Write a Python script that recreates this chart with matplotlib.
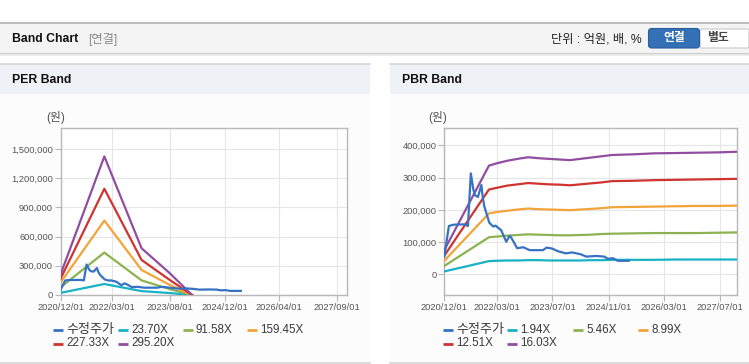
import matplotlib
matplotlib.use("Agg")
import matplotlib.pyplot as plt
import pandas as pd
from matplotlib.patches import Rectangle, FancyBboxPatch
from matplotlib.ticker import FuncFormatter

plt.rcParams["font.family"] = ["Liberation Sans", "Noto Sans CJK KR", "DejaVu Sans"]

W, H = 749, 364

# adjusted share price (shared by both panels)
PRICE_DATES = [
    "2020-12-01", "2021-01-10", "2021-02-20", "2021-05-25", "2021-06-25",
    "2021-07-20", "2021-08-10", "2021-08-25", "2021-09-20", "2021-10-20",
    "2021-11-01", "2021-11-15", "2021-12-28", "2022-02-01", "2022-02-20",
    "2022-04-10", "2022-05-25", "2022-06-22", "2022-07-05", "2022-08-28",
    "2022-10-20", "2022-12-15", "2023-04-10", "2023-05-10", "2023-06-28",
    "2023-08-15", "2023-10-25", "2023-12-20", "2024-03-05", "2024-04-20",
    "2024-07-15", "2024-09-25", "2024-10-25", "2024-12-10", "2025-01-20",
    "2025-04-25",
]
PRICE = [
    55000, 150000, 154000, 155000, 150000,
    313000, 265000, 245000, 240000, 277000,
    238000, 210000, 160000, 148000, 151000,
    137000, 101000, 119000, 115000, 81000,
    84000, 75000, 75000, 83000, 80000,
    72000, 65000, 68000, 62000, 55000,
    57000, 55000, 48000, 50000, 42000,
    42000,
]

# PER band
PER_DATES = ["2020-12-01", "2021-12-25", "2022-11-22", "2023-08-01", "2024-02-15"]
PER_LABELS = ["23.70X", "91.58X", "159.45X", "227.33X", "295.20X"]
PER_23 = [22000, 113000, 40000, 20000, 0]
PER_91 = [80000, 436000, 150000, 60000, 0]
PER_159 = [130000, 765000, 257000, 103000, 0]
PER_227 = [170000, 1092000, 360000, 154000, 0]
PER_295 = [215000, 1424000, 480000, 223000, 0]
PER_XTICKS = ["2020/12/01", "2022/03/01", "2023/08/01", "2024/12/01", "2026/04/01", "2027/09/01"]
PER_YTICKS = [0, 300000, 600000, 900000, 1200000, 1500000]

# PBR band
PBR_DATES = [
    "2020-12-01", "2021-12-25", "2022-03-01", "2022-06-01", "2022-09-01",
    "2022-12-01", "2023-03-01", "2023-06-01", "2023-09-01", "2023-12-01",
    "2024-03-01", "2024-06-01", "2024-09-01", "2024-12-01", "2025-06-01",
    "2025-12-01", "2026-06-01", "2026-12-01", "2027-06-01", "2027-11-27",
]
PBR_LABELS = ["1.94X", "5.46X", "8.99X", "12.51X", "16.03X"]
PBR_1 = [9000, 41000, 42000, 43000, 43000, 44000, 44000, 43000, 43000, 43000,
         43000, 44000, 44000, 45000, 45000, 45000, 46000, 46000, 46000, 46000]
PBR_5 = [26000, 115000, 117000, 120000, 122000, 124000, 123000, 122000, 121000, 121000,
         122000, 123000, 125000, 126000, 127000, 128000, 128000, 128000, 129000, 130000]
PBR_8 = [42000, 189000, 193000, 197000, 201000, 204000, 202000, 201000, 200000, 199000,
         201000, 203000, 205000, 208000, 209000, 210000, 211000, 212000, 212000, 213000]
PBR_12 = [58000, 263000, 268000, 275000, 279000, 283000, 281000, 279000, 278000, 276000,
          279000, 282000, 285000, 289000, 290000, 292000, 293000, 294000, 295000, 296000]
PBR_16 = [75000, 337000, 344000, 352000, 358000, 363000, 360000, 358000, 356000, 354000,
          358000, 362000, 366000, 370000, 372000, 375000, 376000, 377000, 378000, 380000]
PBR_XTICKS = ["2020/12/01", "2022/03/01", "2023/07/01", "2024/11/01", "2026/03/01", "2027/07/01"]
PBR_YTICKS = [0, 100000, 200000, 300000, 400000]

PRICE_LABEL = "수정주가"
COLORS = ["#3672c4", "#18b1c6", "#8cb350", "#f2a43a", "#cf3430", "#914ea0"]
GRID = "#e6e6e6"
SPINE = "#b8b8b8"


def pix_axes(fig, x0, y0, x1, y1):
    return fig.add_axes([x0 / W, 1 - y1 / H, (x1 - x0) / W, (y1 - y0) / H])


def band_axes(ax, dates, bands, xticks, yticks, ylim):
    d = pd.to_datetime(dates)
    for vals, c in zip(bands, COLORS[1:]):
        ax.plot(d, vals, color=c, lw=1.6, zorder=3)
    ax.plot(pd.to_datetime(PRICE_DATES), PRICE, color=COLORS[0], lw=1.6, zorder=4)
    ax.set_xlim(pd.Timestamp("2020-12-01"), pd.Timestamp("2027-11-27"))
    ax.set_ylim(*ylim)
    ax.set_xticks(pd.to_datetime(xticks))
    ax.set_xticklabels(xticks)
    ax.set_yticks(yticks)
    ax.yaxis.set_major_formatter(FuncFormatter(lambda v, _: f"{v:,.0f}"))
    ax.grid(True, color=GRID, lw=0.8, zorder=0)
    ax.set_axisbelow(True)
    for s in ax.spines.values():
        s.set_color(SPINE)
        s.set_linewidth(1.0)
    ax.tick_params(length=4, color=SPINE, labelsize=6.7, labelcolor="#555555", pad=1.5)
    ax.set_facecolor("white")


def legend(bg, x_cols, y_rows, labels):
    slots = [(x_cols[0], y_rows[0]), (x_cols[1], y_rows[0]), (x_cols[2], y_rows[0]),
             (x_cols[3], y_rows[0]), (x_cols[0], y_rows[1]), (x_cols[1], y_rows[1])]
    for (x, y), lab, c in zip(slots, labels, COLORS):
        bg.plot([x, x + 10], [y, y], color=c, lw=2.0, solid_capstyle="butt")
        size = 9.4 if lab == PRICE_LABEL else 8.4
        bg.text(x + 13, y, lab, fontsize=size, color="#3a3a3a", va="center", ha="left")


fig = plt.figure(figsize=(W / 100, H / 100), dpi=100, facecolor="white")
bg = fig.add_axes([0, 0, 1, 1])
bg.set_xlim(0, W)
bg.set_ylim(H, 0)
bg.axis("off")

# top header bar
bg.add_patch(Rectangle((0, 23), W, 30, facecolor="#f4f4f4", edgecolor="none"))
bg.plot([0, W], [22.5, 22.5], color="#b3b3b3", lw=1.2)
bg.plot([0, W], [53.5, 53.5], color="#cfcfcf", lw=1.5)
bg.plot([0, W], [55, 55], color="#ececec", lw=1.2)
bg.text(12, 39, "Band Chart", fontsize=8.8, fontweight="bold", color="#111111", va="center")
bg.text(88, 39, "[연결]", fontsize=8.8, color="#888888", va="center")
bg.text(642, 39, "단위 : 억원, 배, %", fontsize=8.8, color="#222222", va="center", ha="right")
bg.add_patch(FancyBboxPatch((700, 29), 49, 19, boxstyle="round,pad=0,rounding_size=2",
                            facecolor="white", edgecolor="#c8c8c8", lw=0.8))
bg.add_patch(FancyBboxPatch((648.5, 28.5), 51, 19.5, boxstyle="round,pad=0,rounding_size=3",
                            facecolor="#3470b6", edgecolor="#2a5e9c", lw=0.8))
bg.text(674, 38.5, "연결", fontsize=8.5, fontweight="bold", color="white", va="center", ha="center")
bg.text(718, 38.5, "별도", fontsize=8.5, fontweight="bold", color="#444444", va="center", ha="center")

# panels
for x0, x1, title in [(0, 370, "PER Band"), (390, W, "PBR Band")]:
    bg.add_patch(Rectangle((x0, 64.5), x1 - x0, 29, facecolor="#eef1f6", edgecolor="none"))
    bg.add_patch(Rectangle((x0, 93.5), x1 - x0, 268.5, facecolor="#fcfcfc", edgecolor="none"))
    bg.plot([x0, x1], [64, 64], color="#d4d4d4", lw=1.2)
    bg.plot([x0, x1], [362.5, 362.5], color="#d6d6d6", lw=1.2)
    bg.text(x0 + 12, 80, title, fontsize=8.8, fontweight="bold", color="#111111", va="center")

bg.text(56, 118, "(원)", fontsize=8.5, color="#555555", va="center", ha="center")
bg.text(438, 118, "(원)", fontsize=8.5, color="#555555", va="center", ha="center")

ax1 = pix_axes(fig, 60.7, 128, 347, 295)
band_axes(ax1, PER_DATES, [PER_23, PER_91, PER_159, PER_227, PER_295],
          PER_XTICKS, PER_YTICKS, (0, 1716000))

ax2 = pix_axes(fig, 444.3, 128.3, 737.3, 295)
band_axes(ax2, PBR_DATES, [PBR_1, PBR_5, PBR_8, PBR_12, PBR_16],
          PBR_XTICKS, PBR_YTICKS, (-64000, 452700))

legend(bg, [53, 118, 183, 247], [330, 343.5], [PRICE_LABEL] + PER_LABELS)
legend(bg, [443, 507, 573, 638], [330, 343.5], [PRICE_LABEL] + PBR_LABELS)

fig.savefig("out.png", dpi=100, facecolor="white")
